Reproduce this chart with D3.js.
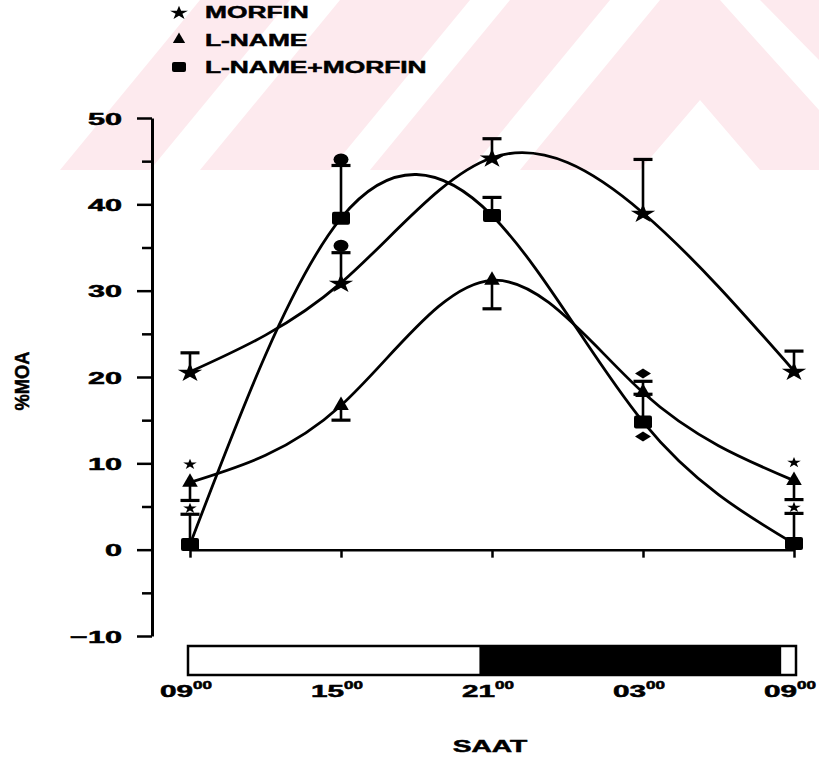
<!DOCTYPE html>
<html>
<head>
<meta charset="utf-8">
<script src="https://cdn.jsdelivr.net/npm/d3@7"></script>
<style>
  body { margin: 0; background: #fff; }
  text { font-family: "Liberation Sans", Arial, sans-serif; font-weight: bold; fill: #000;
         stroke: #000; stroke-width: 0.5; }
</style>
</head>
<body>
<script>
// saat (09:00'dan itibaren geçen saat)
const saatler = [0, 6, 12, 18, 24];
const saatEtiket = ["09", "15", "21", "03", "09"];

// seriler (%MOA)
const morfin = [20.6, 30.9, 45.4, 39.0, 20.7];
const morfinSem = [2.2, 3.5, 2.2, 6.2, 2.3];
const lname = [7.8, 16.7, 31.2, 18.2, 8.0];
const lnameSem = [-2.1, -1.7, -3.3, 1.3, -2.2];   // eksi: hata çubuğu aşağı
const lnameMorfin = [0.6, 38.4, 38.7, 14.8, 0.7];
const lnameMorfinSem = [3.5, 6.1, 2.1, 3.2, 3.5];

// anlamlılık işaretleri
const isaretSaat = [6, 6, 18, 18, 0, 0, 24, 24];
const isaretDeger = [35.2, 45.2, 20.4, 13.1, 10.0, 4.9, 10.2, 5.0];
const isaretTip = ["nokta", "nokta", "karo", "karo", "yildiz", "yildiz", "yildiz", "yildiz"];

// aydınlık / karanlık dönemler
const donemBas = [0, 11.5, 23.5];
const donemSon = [11.5, 23.5, 24];
const donemKaranlik = [false, true, false];

const yTicks = [-10, 0, 10, 20, 30, 40, 50];
const yMinor = [-5, 5, 15, 25, 35, 45];

const W = 819, H = 760;
const svg = d3.select("body").append("svg").attr("width", W).attr("height", H);

// filigran (soluk pembe şeritler)
const filigran = svg.append("g").attr("fill", "#fdeaee");
const seritler = [
  [[60, 170], [150, 170], [290, 0], [200, 0]],
  [[200, 170], [330, 170], [470, 0], [340, 0]],
  [[370, 170], [470, 170], [610, 0], [510, 0]],
  [[520, 170], [640, 170], [700, 100], [760, 170], [819, 170], [819, 110], [720, 0], [660, 0]],
  [[760, 0], [819, 0], [819, 60]]
];
filigran.selectAll("polygon").data(seritler).enter().append("polygon")
  .attr("points", d => d.map(p => p.join(",")).join(" "));

const x = d3.scaleLinear().domain([0, 24]).range([190, 794]);
const y = d3.scaleLinear().domain([-10, 50]).range([636, 118]);

// geniş yazı yardımcı fonksiyonu
function genis(g, px, py, str, size, sx, anchor) {
  return g.append("text")
    .attr("transform", "translate(" + px + "," + py + ") scale(" + sx + ",1)")
    .attr("font-size", size)
    .attr("text-anchor", anchor || "start")
    .text(str);
}

// Y ekseni
const eksenY = svg.append("g").attr("transform", "translate(152,0)");
eksenY.call(d3.axisLeft(y).tickValues(yTicks).tickSize(15).tickSizeOuter(0));
eksenY.call(g => g.select(".domain").attr("stroke-width", 3));
eksenY.selectAll(".tick line").attr("stroke-width", 2.5);
eksenY.selectAll(".tick text")
  .attr("font-size", 17)
  .attr("font-family", "Liberation Sans, Arial, sans-serif")
  .attr("font-weight", "bold")
  .attr("x", -30 / 1.8)
  .attr("dy", "0.36em")
  .attr("transform", "scale(1.8,1)");
svg.append("g").attr("transform", "translate(152,0)")
  .call(d3.axisLeft(y).tickValues(yMinor).tickSize(10).tickFormat(""))
  .call(g => g.select(".domain").remove())
  .selectAll("line").attr("stroke-width", 2.5);

// X ekseni (0 çizgisi)
svg.append("g").attr("transform", "translate(0," + y(0) + ")")
  .call(d3.axisBottom(x).tickValues(saatler).tickSize(8).tickSizeOuter(0).tickFormat(""))
  .call(g => g.select(".domain").attr("stroke-width", 2.5))
  .selectAll("line").attr("stroke-width", 2.5);

// aydınlık / karanlık çubuğu
const cubukY = 646, cubukH = 29;
svg.append("g").selectAll("rect").data(donemBas).enter().append("rect")
  .attr("x", (d, i) => x(d))
  .attr("width", (d, i) => x(donemSon[i]) - x(d))
  .attr("y", cubukY).attr("height", cubukH)
  .attr("fill", (d, i) => donemKaranlik[i] ? "#000" : "#fff");
svg.append("rect")
  .attr("x", x(0) - 2).attr("width", x(24) - x(0) + 4)
  .attr("y", cubukY).attr("height", cubukH)
  .attr("fill", "none").attr("stroke", "#000").attr("stroke-width", 2.5);

// saat etiketleri
const etiketG = svg.append("g");
saatler.forEach(function(s, i) {
  genis(etiketG, x(s) + 3, 697, saatEtiket[i], 17, 1.75, "end");
  genis(etiketG, x(s) + 3, 689, "00", 10, 1.7, "start");
});

genis(svg, 490, 752, "SAAT", 17, 1.66, "middle");

svg.append("text")
  .attr("transform", "translate(29,381) rotate(-90) scale(0.92,1)")
  .attr("text-anchor", "middle")
  .attr("font-size", 20)
  .attr("stroke-width", 0.8)
  .text("%MOA");

// eğriler
const egri = d3.line()
  .x((d, i) => x(saatler[i]))
  .y(d => y(d))
  .curve(d3.curveNatural);

const seriler = [
  {ad: "MORFIN", deger: morfin, sem: morfinSem, sembol: "yildiz"},
  {ad: "L-NAME", deger: lname, sem: lnameSem, sembol: "ucgen"},
  {ad: "L-NAME+MORFIN", deger: lnameMorfin, sem: lnameMorfinSem, sembol: "kare"}
];

svg.append("g").selectAll("path").data(seriler).enter().append("path")
  .attr("d", d => egri(d.deger))
  .attr("fill", "none")
  .attr("stroke", "#000")
  .attr("stroke-width", 2.8);

// hata çubukları
seriler.forEach(function(s) {
  const g = svg.append("g").attr("stroke", "#000");
  s.deger.forEach(function(v, i) {
    const ust = v + s.sem[i];
    g.append("line")
      .attr("x1", x(saatler[i])).attr("x2", x(saatler[i]))
      .attr("y1", y(v)).attr("y2", y(ust))
      .attr("stroke-width", 2.6);
    g.append("line")
      .attr("x1", x(saatler[i]) - 9.5).attr("x2", x(saatler[i]) + 9.5)
      .attr("y1", y(ust)).attr("y2", y(ust))
      .attr("stroke-width", 3.2);
  });
});

// semboller
function sembolCiz(g, tip, cx, cy, kucuk) {
  if (tip === "yildiz") {
    g.append("path")
      .attr("d", d3.symbol().type(d3.symbolStar).size(kucuk ? 75 : 140)())
      .attr("transform", "translate(" + cx + "," + (cy + 1) + ") scale(1.15,0.9)");
  } else if (tip === "ucgen") {
    g.append("path")
      .attr("d", d3.symbol().type(d3.symbolTriangle).size(kucuk ? 65 : 105)())
      .attr("transform", "translate(" + cx + "," + cy + ")");
  } else if (tip === "kare") {
    const w = kucuk ? 14 : 18, h = kucuk ? 10 : 13;
    g.append("rect")
      .attr("x", cx - w / 2).attr("y", cy - h / 2)
      .attr("width", w).attr("height", h).attr("rx", 2);
  }
}

seriler.forEach(function(s) {
  const g = svg.append("g").attr("fill", "#000");
  s.deger.forEach(function(v, i) {
    sembolCiz(g, s.sembol, x(saatler[i]), y(v), false);
  });
});

// anlamlılık işaretleri
const isG = svg.append("g").attr("fill", "#000");
isaretSaat.forEach(function(s, i) {
  const cx = x(s), cy = y(isaretDeger[i]);
  if (isaretTip[i] === "nokta") {
    isG.append("ellipse").attr("cx", cx).attr("cy", cy).attr("rx", 7.5).attr("ry", 6);
  } else if (isaretTip[i] === "karo") {
    isG.append("path")
      .attr("d", "M" + (cx - 8) + "," + cy + "L" + cx + "," + (cy - 5) + "L" + (cx + 8) + "," + cy + "L" + cx + "," + (cy + 5) + "Z");
  } else {
    isG.append("path")
      .attr("d", d3.symbol().type(d3.symbolStar).size(40)())
      .attr("transform", "translate(" + cx + "," + (cy + 1) + ") scale(1.2,0.95)");
  }
});

// lejant
const lejant = svg.append("g");
seriler.forEach(function(s, i) {
  const ly = 12 + i * 27.5;
  sembolCiz(lejant.append("g").attr("fill", "#000"), s.sembol, 179, ly, true);
  genis(lejant, 205, ly + 6, s.ad, 17, 1.55, "start");
});
</script>
</body>
</html>
